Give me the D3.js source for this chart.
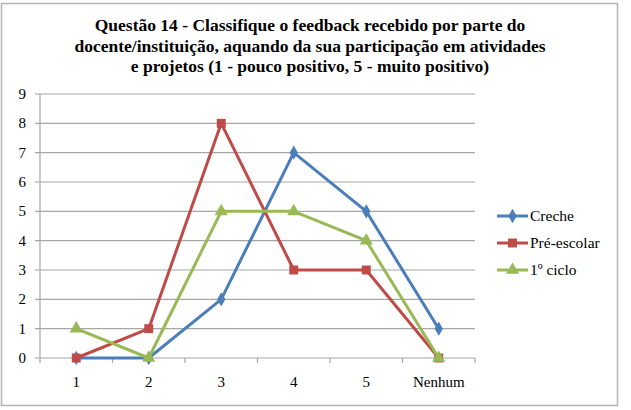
<!DOCTYPE html>
<html>
<head>
<meta charset="utf-8">
<script src="https://cdn.jsdelivr.net/npm/d3@7"></script>
<style>
  body { margin: 0; background: #fff; }
  svg { display: block; }
</style>
</head>
<body>
<svg id="chart" width="631" height="410"></svg>
<script>
'use strict';

// data
const categories = ["1", "2", "3", "4", "5", "Nenhum"];
const creche = [0, 0, 2, 7, 5, 1];
const preEscolar = [0, 1, 8, 3, 3, 0];
const primeiroCiclo = [1, 0, 5, 5, 4, 0];
const yTicks = [0, 1, 2, 3, 4, 5, 6, 7, 8, 9];
const titleLines = [
  "Questão 14 - Classifique o feedback recebido por parte do",
  "docente/instituição, aquando da sua participação em atividades",
  "e projetos (1 - pouco positivo, 5 - muito positivo)"
];

const series = [
  {name: "Creche", values: creche, color: "#4a7ebb", symbol: d3.symbolDiamond, size: 60},
  {name: "Pré-escolar", values: preEscolar, color: "#be4b48", symbol: d3.symbolSquare, size: 80},
  {name: "1º ciclo", values: primeiroCiclo, color: "#98b954", symbol: d3.symbolTriangle, size: 75}
];

const FONT = "'Liberation Serif'";
const svg = d3.select("#chart");

// outer frame
svg.append("rect")
  .attr("x", 1.5).attr("y", 3.5)
  .attr("width", 616).attr("height", 402)
  .attr("fill", "#fff")
  .attr("stroke", "#b4b4b4")
  .attr("stroke-width", 1.5);

// title
svg.append("g").selectAll("text")
  .data(titleLines)
  .enter().append("text")
  .attr("x", 310)
  .attr("y", (d, i) => 31 + i * 20.5)
  .attr("text-anchor", "middle")
  .style("font-family", FONT)
  .style("font-weight", "bold")
  .style("font-size", "17.5px")
  .text(d => d);

let margin = {left: 40, right: 156, top: 94, bottom: 52},
  width = 631 - margin.left - margin.right,
  height = 410 - margin.top - margin.bottom,
  g = svg.append("g").attr("transform", "translate(" + margin.left + "," + margin.top + ")");

let x = d3.scaleBand().domain(categories).range([0, width]);
let y = d3.scaleLinear().domain([0, 9]).range([height, 0]);

// gridlines
g.append("g").selectAll("line")
  .data(yTicks)
  .enter().append("line")
  .attr("x1", -5).attr("x2", width)
  .attr("y1", d => y(d)).attr("y2", d => y(d))
  .attr("stroke", "#a6a6a6")
  .attr("stroke-width", 1.2);

// y axis line
g.append("line")
  .attr("x1", 0).attr("x2", 0)
  .attr("y1", 0).attr("y2", height)
  .attr("stroke", "#a6a6a6").attr("stroke-width", 1.2);

// x axis ticks
let xBounds = d3.range(categories.length + 1).map(i => i * x.step());
g.append("g").selectAll("line")
  .data(xBounds)
  .enter().append("line")
  .attr("x1", d => d).attr("x2", d => d)
  .attr("y1", height).attr("y2", height + 5)
  .attr("stroke", "#a6a6a6").attr("stroke-width", 1.2);

// y labels
g.append("g").selectAll("text")
  .data(yTicks)
  .enter().append("text")
  .attr("x", -14)
  .attr("y", d => y(d) + 5)
  .attr("text-anchor", "end")
  .style("font-family", FONT)
  .style("font-size", "15px")
  .text(d => d);

// x labels
g.append("g").selectAll("text")
  .data(categories)
  .enter().append("text")
  .attr("x", d => x(d) + x.bandwidth() / 2)
  .attr("y", height + 29)
  .attr("text-anchor", "middle")
  .style("font-family", FONT)
  .style("font-size", "15px")
  .text(d => d);

let line = d3.line()
  .x((d, i) => x(categories[i]) + x.bandwidth() / 2)
  .y(d => y(d));

series.forEach(function (s) {
  g.append("path")
    .datum(s.values)
    .attr("d", line)
    .attr("fill", "none")
    .attr("stroke", s.color)
    .attr("stroke-width", 3)
    .attr("stroke-linejoin", "round");

  g.append("g").selectAll("path")
    .data(s.values)
    .enter().append("path")
    .attr("d", d3.symbol().type(s.symbol).size(s.size))
    .attr("fill", s.color)
    .attr("transform", (d, i) => "translate(" + (x(categories[i]) + x.bandwidth() / 2) + "," + y(d) + ")");
});

// legend
let legend = svg.append("g").attr("transform", "translate(497,216)");
series.forEach(function (s, i) {
  let row = legend.append("g").attr("transform", "translate(0," + (i * 27) + ")");
  row.append("line")
    .attr("x1", 0).attr("x2", 31)
    .attr("stroke", s.color).attr("stroke-width", 3);
  row.append("path")
    .attr("d", d3.symbol().type(s.symbol).size(s.size))
    .attr("fill", s.color)
    .attr("transform", "translate(15.5,0)");
  row.append("text")
    .attr("x", 33)
    .attr("y", 5)
    .style("font-family", FONT)
    .style("font-size", "15.5px")
    .text(s.name);
});
</script>
</body>
</html>
